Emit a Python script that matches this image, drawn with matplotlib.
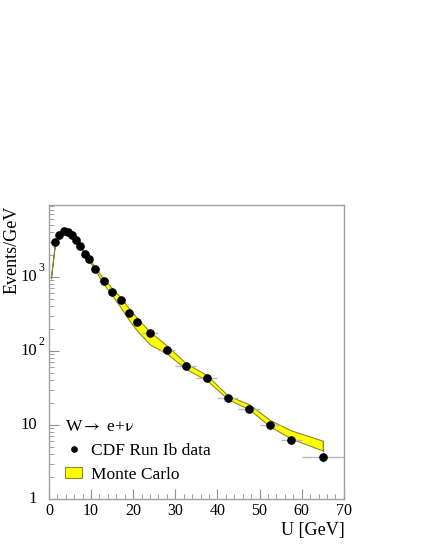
## W -> e nu recoil spectrum: CDF Run Ib data vs Monte Carlo band (log scale)

import matplotlib
matplotlib.use('Agg')
import matplotlib.pyplot as plt
from matplotlib.patches import Patch
from matplotlib.lines import Line2D
from matplotlib.ticker import FixedLocator, NullFormatter

plt.rcParams['font.family'] = ['Liberation Serif', 'DejaVu Serif']
plt.rcParams['mathtext.fontset'] = 'stix'

# data points (bin centre, half width, events/GeV, error)
u_data = [1.5, 2.5, 3.5, 4.5, 5.5, 6.5, 7.5, 8.5, 9.5, 11, 13, 15, 17, 19, 21,
          24, 28, 32.5, 37.5, 42.5, 47.5, 52.5, 57.5, 65]
u_half = [0.5, 0.5, 0.5, 0.5, 0.5, 0.5, 0.5, 0.5, 0.5, 1, 1, 1, 1, 1, 1,
          2, 2, 2.5, 2.5, 2.5, 2.5, 2.5, 2.5, 5]
ev_data = [2970, 3620, 4220, 4060, 3620, 3100, 2600, 2030, 1730, 1295, 883, 633,
           484, 326, 247, 175, 102, 62, 42.7, 23.2, 16.6, 9.8, 6.3, 3.7]
ev_err = [50, 55, 60, 60, 55, 50, 45, 40, 35, 25, 20, 17, 15, 12, 10,
          7, 5, 3.5, 2.8, 2.0, 1.7, 1.2, 0.8, 0.55]

# Monte Carlo band (upper / lower edge)
u_mc = [0.5, 1.5, 2.5, 3.5, 4.5, 5.5, 6.5, 7.5, 8.5, 9.5, 11, 13, 15, 17, 19, 21,
        24, 28, 32.5, 37.5, 42.5, 47.5, 52.5, 57.5, 65]
mc_hi = [1000, 3050, 3700, 4250, 4100, 3650, 3150, 2650, 2080, 1790, 1340, 930,
         700, 530, 375, 275, 180, 118, 68, 47, 24.8, 19.0, 11.6, 8.4, 6.1]
mc_lo = [960, 2950, 3600, 4150, 4000, 3550, 3050, 2520, 1950, 1650, 1230, 800,
         560, 390, 262, 185, 122, 92, 57, 40, 22.2, 16.3, 9.5, 6.5, 4.5]

decades = [1, 10, 100, 1000]
decade_base = ['1', '10', '10', '10']
decade_exp = ['', '', '2', '3']


fig = plt.figure(figsize=(4.25, 5.5), dpi=100)
ax = fig.add_axes([0.115, 0.093, 0.694, 0.534])

ax.fill_between(u_mc, mc_lo, mc_hi, facecolor='#ffff00', edgecolor='#8a8a30', linewidth=0.8)
ax.plot([u_mc[-1], u_mc[-1]], [mc_lo[-1], mc_hi[-1]], color='#8a8a30', lw=0.8)

ax.errorbar(u_data, ev_data, xerr=u_half, yerr=ev_err, fmt='none',
            ecolor='#b8b8b8', elinewidth=1, capsize=0, zorder=3)
ax.plot(u_data, ev_data, 'o', color='black', markersize=5.2, zorder=4)

ax.set_yscale('log')
ax.set_xlim(0, 70)
ax.set_ylim(1, 9300)

for s in ax.spines.values():
    s.set_color('#a0a0a0')
    s.set_linewidth(1)

ax.set_xticks(range(0, 71, 10))
ax.xaxis.set_minor_locator(FixedLocator([i for i in range(0, 71, 2) if i % 10]))
ax.tick_params(axis='both', which='both', direction='in', color='#909090',
               top=False, right=False)
ax.tick_params(axis='both', which='major', length=7, labelsize=11.5)
ax.tick_params(axis='both', which='minor', length=3.5)
ax.tick_params(axis='x', pad=3)

ax.yaxis.set_major_locator(FixedLocator(decades))
ax.yaxis.set_minor_locator(FixedLocator([m * d for d in decades[:-1] for m in range(2, 10)]
                                        + [m * 1000 for m in range(2, 10)]))
ax.yaxis.set_major_formatter(NullFormatter())
ax.yaxis.set_minor_formatter(NullFormatter())

# ROOT-style decade labels: base right-aligned, exponent detached
tr = ax.get_yaxis_transform()
for d, b, e in zip(decades, decade_base, decade_exp):
    ax.text(-0.04, d, b, transform=tr, ha='right', va='center', fontsize=12)
    if e:
        ax.text(-0.035, d * 1.3, e, transform=tr, ha='left', va='center', fontsize=8.5)

fig.text(0.028, 0.627, 'Events/GeV', rotation=90, ha='center', va='top', fontsize=13)
fig.text(0.811, 0.036, 'U [GeV]', ha='right', va='center', fontsize=13)

h_dot = Line2D([], [], marker='o', color='black', linestyle='none', markersize=3.8)
h_mc = Patch(facecolor='#ffff00', edgecolor='#8a8a30', linewidth=0.8)
leg = ax.legend([h_dot, h_mc], ['CDF Run Ib data', 'Monte Carlo'],
                title='W$\\rightarrow$ e+$\\mathrm{\\nu}$', alignment='left', loc='lower left',
                bbox_to_anchor=(0.055, 0.055), frameon=False, fontsize=12.5,
                title_fontsize=12.5, borderpad=0, borderaxespad=0,
                handlelength=1.0, handleheight=0.55, handletextpad=0.5,
                labelspacing=0.45)

plt.savefig('out.png', dpi=100)
